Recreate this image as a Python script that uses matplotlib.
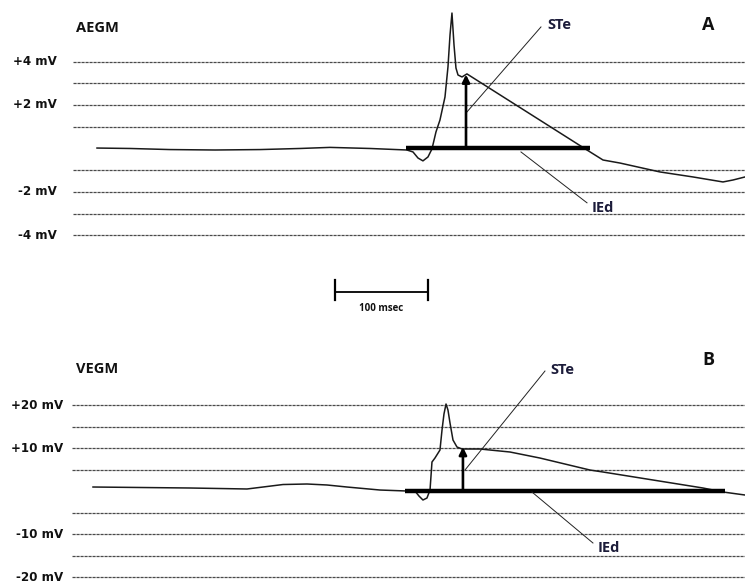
import numpy as np
import matplotlib
matplotlib.use("Agg")
import matplotlib.pyplot as plt

# time axis in msec, amplitudes in mV
aegm_t = [0, 35.5, 78.5, 126.9, 175.3, 218.3, 250.5, 293.5, 333.3, 339.8, 345.2,
          350.5, 355.9, 360.2, 364.5, 368.8, 374.2, 377.4, 379.6, 381.7, 383.9,
          386.0, 388.2, 392.5, 397.8, 526.9, 544.1, 562.4, 605.4, 640.9, 673.1,
          683.9, 696.8]
aegm_mv = [0.02, 0.0, -0.05, -0.07, -0.05, 0.0, 0.05, 0.0, -0.07, -0.16, -0.44,
           -0.57, -0.39, -0.02, 0.76, 1.31, 2.37, 3.75, 5.22, 6.23, 4.76,
           3.70, 3.38, 3.29, 3.43, -0.07, -0.53, -0.67, -1.08, -1.31, -1.54,
           -1.45, -1.31]

vegm_t = [-4.3, 100.0, 161.3, 178.5, 200.0, 225.8, 247.3, 268.8, 304.3, 333.3,
          341.9, 346.2, 350.5, 354.8, 358.1, 360.2, 363.4, 368.8, 371.0, 373.1,
          375.3, 377.4, 379.6, 382.8, 387.1, 392.5, 411.8, 444.1, 476.3, 530.1,
          544.1, 651.6, 673.1, 696.8]
vegm_mv = [0.93, 0.70, 0.47, 0.93, 1.51, 1.63, 1.40, 0.93, 0.23, 0.0,
           0.0, -1.16, -2.09, -1.63, 0.23, 6.74, 7.67, 9.53, 14.19, 17.9,
           20.23, 18.84, 15.81, 11.86, 10.23, 9.77, 9.77, 9.07, 7.67, 4.88,
           4.42, 0.70, -0.23, -0.93]

aegm_grid = [4, 3, 2, 1, -1, -2, -3, -4]
aegm_labels = {4: "+4 mV", 2: "+2 mV", -2: "-2 mV", -4: "-4 mV"}
vegm_grid = [20, 15, 10, 5, -5, -10, -15, -20]
vegm_labels = {20: "+20 mV", 10: "+10 mV", -10: "-10 mV", -20: "-20 mV"}

# STe arrow (time, height) and IEd bar (start, end)
aegm_ste = (396.8, 3.40)
aegm_ied = (332.3, 530.1)
vegm_ste = (393.5, 10.23)
vegm_ied = (331.2, 675.3)

scale_ms = 100
scale_start = 255.9

W, H = 745, 582
fig = plt.figure(figsize=(W / 100, H / 100), dpi=100)

xlim = (-104.3, 696.8)
txt_col = "#1c1c3a"
lab_font = dict(family=["DejaVu Sans"], fontweight="bold", fontsize=8.6)
big_font = dict(family=["Open Sans", "DejaVu Sans"], fontweight="bold")

def panel(ax, t, mv, grid, labels, ste, ied, grid_start, lab_x, name, letter,
          ste_line, ste_txt, ied_line, ied_txt, name_y, letter_y):
    ax.set_xlim(*xlim)
    ax.axis("off")
    ax.hlines(grid, grid_start, xlim[1], colors="#4a4a4a", lw=0.9,
              linestyles=(0, (2.5, 0.7)))
    for v, s in labels.items():
        ax.text(lab_x, v, s, ha="right", va="center", color="#111111", **lab_font)
    ax.plot(t, mv, color="#1a1a1a", lw=1.1)
    ax.plot(ied, [0, 0], color="black", lw=3.2, solid_capstyle="butt")
    ax.annotate("", xy=(ste[0], ste[1]), xytext=(ste[0], 0),
                arrowprops=dict(arrowstyle="-|>", color="black", lw=1.9,
                                mutation_scale=11, shrinkA=0, shrinkB=0))
    ax.plot(ste_line[0], ste_line[1], color="#222222", lw=0.7)
    ax.plot(ied_line[0], ied_line[1], color="#222222", lw=0.7)
    ax.text(ste_txt[0], ste_txt[1], "STe", ha="left", va="center", color=txt_col,
            fontsize=10.5, **big_font)
    ax.text(ied_txt[0], ied_txt[1], "IEd", ha="left", va="center", color=txt_col,
            fontsize=10.5, **big_font)
    ax.text(-22.6, name_y, name, ha="left", va="center", color="#111111",
            fontsize=10.5, **big_font)
    ax.text(657, letter_y, letter, ha="center", va="center", color="#111111",
            fontsize=13, **big_font)

# panel A: py 0..320
axA = fig.add_axes([0, 1 - 320 / H, 1, 320 / H])
axA.set_ylim(-7.89, 6.83)
panel(axA, aegm_t, aegm_mv, aegm_grid, aegm_labels, aegm_ste, aegm_ied,
      -25.8, -43, "AEGM", "A",
      ([397.8, 477.4], [1.68, 5.59]), (483.9, 5.68),
      ([455.9, 526.9], [-0.16, -2.50]), (532.3, -2.74), 5.54, 5.68)

# scale bar
sb_y = -6.60
axA.plot([scale_start, scale_start + scale_ms], [sb_y, sb_y], color="black", lw=1.3)
axA.plot([scale_start, scale_start], [-6.05, -6.97], color="black", lw=1.6)
axA.plot([scale_start + scale_ms] * 2, [-6.05, -6.97], color="black", lw=1.6)
axA.text(scale_start + scale_ms / 2, -7.38, "%d msec" % scale_ms, ha="center",
         va="center", fontsize=7, color="#111111", **big_font)

# panel B: py 320..582
axB = fig.add_axes([0, 0, 1, 262 / H])
axB.set_ylim(-21.16, 39.77)
panel(axB, vegm_t, vegm_mv, vegm_grid, vegm_labels, vegm_ste, vegm_ied,
      -26.9, -36.6, "VEGM", "B",
      ([395.7, 481.7], [4.88, 27.9]), (487.1, 28.1),
      ([467.7, 533.3], [-0.23, -12.09]), (538.7, -13.26), 28.4, 30.5)

fig.savefig("out.png", dpi=100)
